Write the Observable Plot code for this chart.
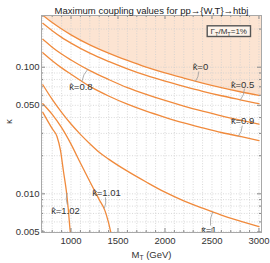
<!DOCTYPE html>
<html><head><meta charset="utf-8">
<script src="https://cdn.jsdelivr.net/npm/d3@7"></script>
<script src="https://cdn.jsdelivr.net/npm/@observablehq/plot@0.6"></script>
<style>
body{margin:0;background:#fff;}
#chart svg{display:block;}
</style></head><body><div id="chart"></div>
<script>
// ---- data ----
const massA = [700,800,900,1000,1200,1400,1600,1800,2000,2200,2400,2600,2800,3000];
const kappaHat0  = [0.257,0.225,0.200,0.180,0.150,0.129,0.113,0.100,0.090,0.082,0.075,0.069,0.064,0.060];
const kappaHat05 = [0.222,0.194,0.172,0.155,0.129,0.111,0.097,0.086,0.0775,0.0705,0.0645,0.0595,0.0553,0.0515];
const kappaHat08 = [0.166,0.144,0.127,0.114,0.094,0.080,0.069,0.061,0.0546,0.0493,0.0450,0.0413,0.0382,0.0355];
const kappaHat09 = [0.130,0.1125,0.0988,0.088,0.0705,0.0592,0.051,0.0449,0.0402,0.0363,0.0332,0.0305,0.0284,0.0263];
const massB = [700,800,900,1000,1100,1200,1300,1400,1600,1800,2000,2200,2400,2600,2800,3000];
const kappaHat1 = [0.0727,0.0557,0.0440,0.0356,0.0295,0.0249,0.0213,0.0188,0.0151,0.0124,0.0103,0.0088,0.0077,0.0068,0.0061,0.0055];
const massC = [700,800,900,1000,1100,1200,1300,1360,1400,1430];
const kappaHat101 = [0.0515,0.0424,0.0333,0.0247,0.0175,0.0125,0.0090,0.0074,0.0059,0.0047];
const massD = [700,800,850,888,920,950,970,990,1005];
const kappaHat102 = [0.044,0.0327,0.0285,0.0220,0.0150,0.0106,0.0077,0.0052,0.0042];
// shading boundary continues to the right frame edge
const shadeEdgeM = 3027, shadeEdgeK = 0.0596;

const labelText = ["κ̂=0","κ̂=0.5","κ̂=0.8","κ̂=0.9","κ̂=1","κ̂=1.01","κ̂=1.02"];
const labelM = [2378,2825,1106,2825,2468,1378,941];
const labelK = [0.1012,0.0729,0.0704,0.0373,0.00514,0.0102,0.00738];
const pointerFromM = [2360,2846,1117,2822,2484,1367,959];
const pointerFromK = [0.0919,0.0672,0.0778,0.0343,0.00566,0.00933,0.00827];
const pointerToM = [2325,2804,1176,2782,2506,1356,957];
const pointerToK = [0.0775,0.0553,0.0958,0.0286,0.00715,0.0077,0.0101];

const xMajor = [1000,1500,2000,2500,3000];
const xMinor = [700,800,900,1100,1200,1300,1400,1600,1700,1800,1900,2100,2200,2300,2400,2600,2700,2800,2900];
const yMajor = [0.005,0.01,0.05,0.1];
const yMinor = [0.006,0.007,0.008,0.009,0.02,0.03,0.04,0.06,0.07,0.08,0.09,0.2];
const yTickLabels = ["0.005","0.010","0.050","0.100"];

const titleText = "Maximum coupling values for pp→{W,T}→htbj";
const xLabel = "M_T (GeV)";
const yLabel = "κ";
const legendText = "Γ_T/M_T=1%";

// ---- build tables ----
const curves = [];
const addCurve = (name, ms, ks) => ms.forEach((m,i)=>curves.push({name, m, k: ks[i]}));
addCurve("0", massA, kappaHat0);
addCurve("0.5", massA, kappaHat05);
addCurve("0.8", massA, kappaHat08);
addCurve("0.9", massA, kappaHat09);
addCurve("1", massB, kappaHat1);
addCurve("1.01", massC, kappaHat101);
addCurve("1.02", massD, kappaHat102);
const shade = massA.map((m,i)=>({m, k: kappaHat0[i]})).concat([{m: shadeEdgeM, k: shadeEdgeK}]);
const labels = labelText.map((t,i)=>({t, m: labelM[i], k: labelK[i],
  m1: pointerFromM[i], k1: pointerFromK[i], m2: pointerToM[i], k2: pointerToK[i]}));

const W = 270, H = 263, mL = 41, mR = 9, mT = 15, mB = 31;
const fw = W - mL - mR, fh = H - mT - mB;
const xDomain = [686, 3027], yDomain = [0.00495, 0.256];
const font = "'Liberation Sans', Arial, sans-serif";
const orange = "#f08a3c", gridC = "#cfcfcf", frameC = "#a8a8a8", tickC = "#8a8a8a";

const plot = Plot.plot({
  width: W, height: H, marginLeft: mL, marginRight: mR, marginTop: mT, marginBottom: mB,
  style: {fontFamily: font, fontSize: "9.5px", background: "#fff", color: "#333", overflow: "visible"},
  x: {domain: xDomain},
  y: {type: "log", domain: yDomain},
  marks: [
    Plot.areaY(shade, {x: "m", y1: "k", y2: yDomain[1], fill: "#fce4d2", curve: "monotone-x", clip: true}),
    Plot.ruleX(xMajor.concat(xMinor), {stroke: gridC, strokeWidth: 0.8, strokeDasharray: "1,1.6"}),
    Plot.ruleY(yMajor.concat(yMinor), {stroke: gridC, strokeWidth: 0.8, strokeDasharray: "1,1.6"}),
    Plot.line(curves, {x: "m", y: "k", z: "name", stroke: orange, strokeWidth: 1.3, curve: "monotone-x", clip: true}),
    Plot.arrow(labels, {x1: "m1", y1: "k1", x2: "m2", y2: "k2", bend: 18, headLength: 0, stroke: "#9a9a9a", strokeWidth: 0.8}),
    Plot.text(labels, {x: "m", y: "k", text: "t", fontSize: 9.5, fill: "#333", className: "hatlabel"}),
    // frame ticks (inward)
    Plot.tickX(xMajor, {x: d=>d, insetTop: fh - 4, stroke: tickC}),
    Plot.tickX(xMinor, {x: d=>d, insetTop: fh - 2, stroke: tickC}),
    Plot.tickX(xMajor, {x: d=>d, insetBottom: fh - 4, stroke: tickC}),
    Plot.tickX(xMinor, {x: d=>d, insetBottom: fh - 2, stroke: tickC}),
    Plot.tickY(yMajor, {y: d=>d, insetRight: fw - 4, stroke: tickC}),
    Plot.tickY(yMinor, {y: d=>d, insetRight: fw - 2, stroke: tickC}),
    Plot.tickY(yMajor, {y: d=>d, insetLeft: fw - 4, stroke: tickC}),
    Plot.tickY(yMinor, {y: d=>d, insetLeft: fw - 2, stroke: tickC}),
    Plot.frame({stroke: frameC, strokeWidth: 1}),
    Plot.axisX({ticks: xMajor, tickSize: 0, tickPadding: 5, tickFormat: d=>String(d), label: null, fill: "#333"}),
    Plot.axisY({ticks: yMajor, tickSize: 0, tickPadding: 2, tickFormat: d=>yTickLabels[yMajor.indexOf(d)], label: null, fill: "#333"}),
    // legend box
    Plot.frame({insetLeft: 165.7, insetRight: 11, insetTop: 10.3, insetBottom: 196, stroke: "#555", strokeWidth: 1.4, fill: "#fdf3ea"}),
    Plot.text([legendText], {frameAnchor: "top-right", dx: -32.7, dy: 15.7, textAnchor: "middle", lineAnchor: "middle", fontSize: 8, fill: "#333"}),
    // titles
    Plot.text([titleText], {frameAnchor: "top", dy: -8, fontSize: 9.5, fill: "#222"}),
    Plot.text([xLabel], {frameAnchor: "bottom", dy: 25, fontSize: 9.5, fill: "#333"}),
    Plot.text([yLabel], {frameAnchor: "left", dx: -33, rotate: -90, fontSize: 9.5, fill: "#333"})
  ]
});

const ns = "http://www.w3.org/2000/svg";
const tspan = (txt, attrs) => {
  const t = document.createElementNS(ns, "tspan");
  for (const k in attrs) t.setAttribute(k, attrs[k]);
  t.textContent = txt;
  return t;
};
plot.querySelectorAll("text").forEach(el => {
  const s = el.textContent;
  // subscripts for "_T"
  if (s.includes("_T")) {
    const parts = s.split("_T");
    el.textContent = "";
    parts.forEach((p, i) => {
      if (i > 0) {
        el.appendChild(tspan("T", {"font-size": "70%", dy: "2.2"}));
        el.appendChild(tspan(p, {dy: "-2.2"}));
      } else el.appendChild(document.createTextNode(p));
    });
  }
  // hat over kappa drawn as a separate circumflex glyph
  if (s.includes("\u0302")) {
    const [base, rest] = s.split("\u0302");
    el.textContent = "";
    el.appendChild(document.createTextNode(base));
    el.appendChild(tspan("\u02C6", {dx: "-4.3", dy: "0.3"}));
    el.appendChild(tspan(rest, {dx: "0.9", dy: "-0.3"}));
  }
});
document.getElementById("chart").appendChild(plot);
</script></body></html>
